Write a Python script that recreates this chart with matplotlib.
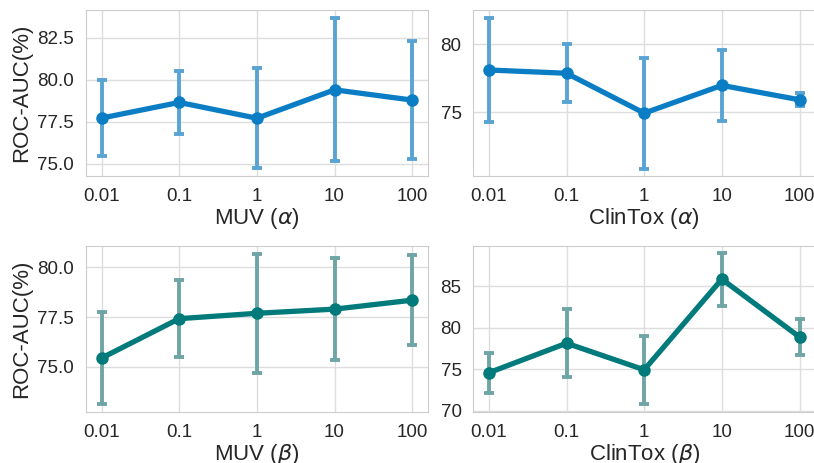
import matplotlib
matplotlib.use("Agg")
import matplotlib.pyplot as plt
import seaborn as sns

sns.set_style("whitegrid")
plt.rcParams['font.family'] = ['Liberation Sans', 'DejaVu Sans']
plt.rcParams['mathtext.fontset'] = 'dejavusans'

categories = ["0.01", "0.1", "1", "10", "100"]

muv_alpha_mean = [77.72, 78.65, 77.71, 79.40, 78.79]
muv_alpha_err = [2.24, 1.88, 2.98, 4.25, 3.53]
clintox_alpha_mean = [78.11, 77.87, 74.94, 76.98, 75.92]
clintox_alpha_err = [3.80, 2.13, 4.08, 2.63, 0.48]
muv_beta_mean = [75.44, 77.42, 77.69, 77.90, 78.35]
muv_beta_err = [2.30, 1.93, 3.00, 2.55, 2.26]
clintox_beta_mean = [74.60, 78.15, 74.95, 85.87, 78.90]
clintox_beta_err = [2.42, 4.07, 4.10, 3.20, 2.20]

xlabels = [r"MUV ($\alpha$)", r"ClinTox ($\alpha$)", r"MUV ($\beta$)", r"ClinTox ($\beta$)"]
ylims = [(74.29, 84.15), (70.34, 82.52), (72.74, 81.09), (69.9, 89.9)]

alpha_line = "#0a7dc4"
alpha_err = "#5aa4d3"
beta_line = "#007a7a"
beta_err = "#6fa5a5"

fig = plt.figure(figsize=(8.14, 4.63), dpi=100)
positions = [
    [0.1057, 0.6205, 0.4198, 0.3579],
    [0.5815, 0.6205, 0.4198, 0.3579],
    [0.1057, 0.1108, 0.4198, 0.3585],
    [0.5815, 0.1108, 0.4198, 0.3585],
]
data = [
    (muv_alpha_mean, muv_alpha_err, alpha_line, alpha_err),
    (clintox_alpha_mean, clintox_alpha_err, alpha_line, alpha_err),
    (muv_beta_mean, muv_beta_err, beta_line, beta_err),
    (clintox_beta_mean, clintox_beta_err, beta_line, beta_err),
]
xs = list(range(len(categories)))
for i, (pos, (m, e, lc, ec)) in enumerate(zip(positions, data)):
    ax = fig.add_axes(pos)
    ax.errorbar(xs, m, yerr=e, fmt='none', ecolor=ec, elinewidth=2.8,
                capsize=3.4, capthick=2.8, zorder=2)
    ax.plot(xs, m, color=lc, lw=3.8, marker='o', markersize=8, zorder=3)
    ax.set_xlim(-0.2, 4.2)
    ax.set_ylim(*ylims[i])
    ax.set_xticks(xs)
    ax.set_xticklabels(categories)
    ax.tick_params(axis='both', labelsize=13.5, colors='#262626', pad=5)
    ax.set_xlabel(xlabels[i], fontsize=16, color='#262626', labelpad=1)
    if i % 2 == 0:
        ax.set_ylabel("ROC-AUC(%)", fontsize=16, color='#262626', labelpad=4)
    if i == 1:
        ax.set_yticks([75, 80])
    if i == 3:
        ax.set_yticks([70, 75, 80, 85])
    for s in ax.spines.values():
        s.set_color('#cccccc')
    ax.grid(color='#dddddd', lw=1)

fig.savefig("out.png", dpi=100)
